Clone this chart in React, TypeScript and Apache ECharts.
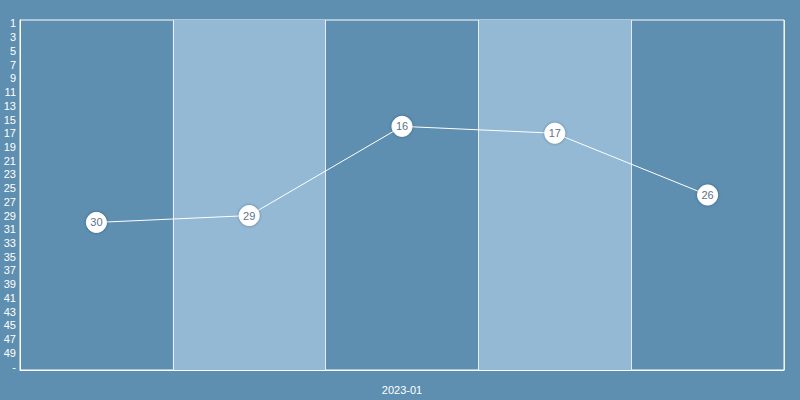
import React, { useEffect, useRef } from "react";
import * as echarts from "echarts";

const xCategories = ["", "", "2023-01", "", ""];
const rankCategories = [
  "1","2","3","4","5","6","7","8","9","10",
  "11","12","13","14","15","16","17","18","19","20",
  "21","22","23","24","25","26","27","28","29","30",
  "31","32","33","34","35","36","37","38","39","40",
  "41","42","43","44","45","46","47","48","49","50","-",
];
const rankValues = ["30", "29", "16", "17", "26"];

export default function App() {
  const ref = useRef<HTMLDivElement>(null);
  useEffect(() => {
    if (!ref.current) return;
    const chart = echarts.init(ref.current, undefined, { renderer: "svg" });
    chart.setOption({
      animation: false,
      backgroundColor: "#5e8fb0",
      grid: {
        left: 20,
        right: 16,
        top: 20,
        bottom: 30,
        show: true,
        borderColor: "#ffffff",
        borderWidth: 1,
      },
      xAxis: {
        type: "category",
        data: xCategories,
        boundaryGap: true,
        axisLine: { show: true, lineStyle: { color: "#ffffff" } },
        axisTick: { show: false },
        axisLabel: { color: "#ffffff", fontSize: 11, margin: 14, interval: 0 },
        splitLine: { show: true, lineStyle: { color: "rgba(255,255,255,0.8)", width: 1 } },
        splitArea: { show: true, areaStyle: { color: ["rgba(0,0,0,0)", "#93b9d5"] } },
      },
      yAxis: {
        type: "category",
        data: rankCategories,
        inverse: true,
        boundaryGap: true,
        axisLine: { show: true, lineStyle: { color: "#ffffff" } },
        axisTick: { show: false },
        axisLabel: { color: "#ffffff", fontSize: 11, margin: 4, interval: 1, padding: [3, 0, 0, 0] },
        splitLine: { show: false },
        splitArea: { show: false },
      },
      series: [
        {
          type: "line",
          data: rankValues,
          symbol: "circle",
          symbolSize: 20,
          z: 5,
          itemStyle: {
            color: "#ffffff",
            borderColor: "#ffffff",
            shadowBlur: 3,
            shadowColor: "rgba(0,0,0,0.35)",
          },
          lineStyle: { color: "#ffffff", width: 1 },
          label: {
            show: true,
            position: "inside",
            color: "#5c7389",
            fontSize: 11,
            formatter: (p: any) => rankValues[p.dataIndex],
          },
          labelLayout: { hideOverlap: false },
        },
      ],
    });
    return () => chart.dispose();
  }, []);
  return (
    <div
      ref={ref}
      style={{ position: "fixed", left: 0, top: 0, width: 800, height: 400 }}
    />
  );
}
